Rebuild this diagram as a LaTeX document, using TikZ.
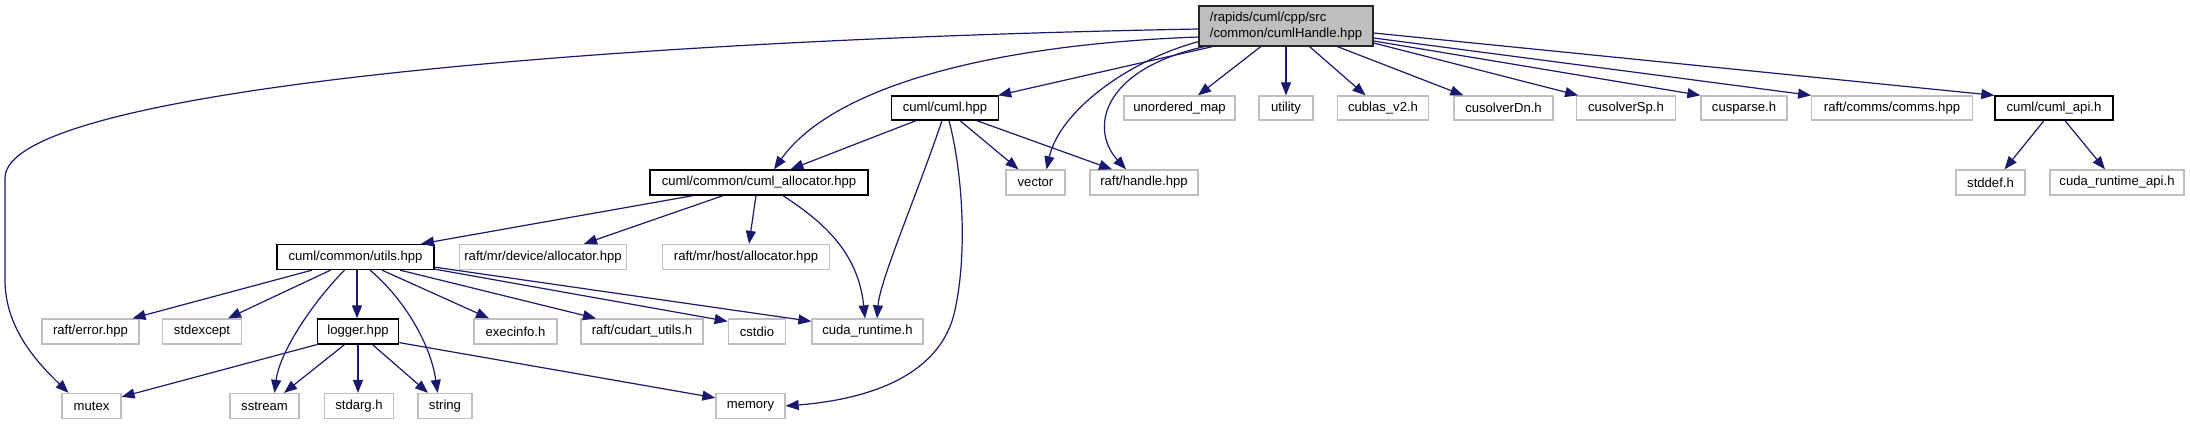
\documentclass[tikz,border=0pt]{standalone}
\usepackage{fontspec}
\setmainfont{Liberation Sans}
\usetikzlibrary{arrows.meta,calc}
\definecolor{edgeblue}{HTML}{191970}
\definecolor{grayline}{HTML}{BFBFBF}
\begin{document}
\begin{tikzpicture}[x=1pt,y=-1pt,
  base/.style={rectangle, inner sep=0pt, minimum height=25pt, line width=1.3pt, font=\fontsize{13.1}{16.5}\selectfont},
  inbox/.style={base, draw=black, fill=white},
  exbox/.style={base, draw=grayline, fill=white},
  rootbox/.style={base, draw=black!85, fill=grayline, minimum height=40pt, align=left},
  edge/.style={draw=edgeblue, line width=1.2pt, -{Triangle[length=13pt,width=10pt]}}
]
\useasboundingbox (0,0) rectangle (2190,425);
% row 0
\node[rootbox, minimum width=174pt] (main) at (1286,26) {/rapids/cuml/cpp/src\\/common/cumlHandle.hpp};
% row 1
\node[inbox, minimum width=107pt, minimum height=24pt] (cuml) at (945,108) {cuml/cuml.hpp};
\node[exbox, minimum width=111pt, minimum height=24pt] (umap) at (1179.5,108) {unordered\_map};
\node[exbox, minimum width=54pt, minimum height=24pt] (utility) at (1286,108) {utility};
\node[exbox, minimum width=91.5pt, minimum height=24pt] (cublas) at (1383,108) {cublas\_v2.h};
\node[exbox, minimum width=99pt, minimum height=24pt] (cusolverDn) at (1503.5,108) {cusolverDn.h};
\node[exbox, minimum width=98.5pt, minimum height=24pt] (cusolverSp) at (1626,108) {cusolverSp.h};
\node[exbox, minimum width=86pt, minimum height=24pt] (cusparse) at (1744,108) {cusparse.h};
\node[exbox, minimum width=160.5pt, minimum height=24pt] (comms) at (1892,108) {raft/comms/comms.hpp};
\node[inbox, minimum width=118pt, minimum height=24pt] (cumlapi) at (2054,108) {cuml/cuml\_api.h};
% row 2
\node[inbox, minimum width=218pt] (alloc) at (759,182.5) {cuml/common/cuml\_allocator.hpp};
\node[exbox, minimum width=59pt] (vector) at (1035.5,182.5) {vector};
\node[exbox, minimum width=108pt] (handle) at (1144,182.5) {raft/handle.hpp};
\node[exbox, minimum width=69pt] (stddef) at (1990.5,182.5) {stddef.h};
\node[exbox, minimum width=134pt] (cra) at (2117,182.5) {cuda\_runtime\_api.h};
% row 3
\node[inbox, minimum width=157pt] (utils) at (355.5,257) {cuml/common/utils.hpp};
\node[exbox, minimum width=166.5pt] (devalloc) at (543,257) {raft/mr/device/allocator.hpp};
\node[exbox, minimum width=166.5pt] (hostalloc) at (746,257) {raft/mr/host/allocator.hpp};
% row 4
\node[exbox, minimum width=97pt] (rerror) at (90.5,331.5) {raft/error.hpp};
\node[exbox, minimum width=78.6pt] (stdexcept) at (202,331.5) {stdexcept};
\node[inbox, minimum width=81.5pt] (logger) at (358,331.5) {logger.hpp};
\node[exbox, minimum width=83pt] (execinfo) at (515.5,331.5) {execinfo.h};
\node[exbox, minimum width=122pt] (cudart) at (642,331.5) {raft/cudart\_utils.h};
\node[exbox, minimum width=57.5pt] (cstdio) at (757,331.5) {cstdio};
\node[exbox, minimum width=111pt] (cudaruntime) at (867.5,331.5) {cuda\_runtime.h};
% row 5
\node[exbox, minimum width=59pt] (mutex) at (91.5,406) {mutex};
\node[exbox, minimum width=69pt] (sstream) at (264.5,406) {sstream};
\node[exbox, minimum width=68.5pt] (stdarg) at (359,406) {stdarg.h};
\node[exbox, minimum width=54pt] (string) at (445,406) {string};
\node[exbox, minimum width=69pt] (memory) at (750.5,406) {memory};

% edges from main
\draw[edge] ($(main.west)+(0,3)$) .. controls (600,40) and (5,90) .. (5,178) -- (5,280) .. controls (5,330) and (40,365) .. ($(mutex.north)+(-23,0)$);
\draw[edge] ($(main.west)+(0,11)$) .. controls (980,45) and (830,90) .. ($(alloc.north)+(15,0)$);
\draw[edge] ($(main.south west)+(14,0)$) -- ($(cuml.north east)+(-1,0)$);
\draw[edge] ($(main.south west)+(0,-5)$) .. controls (1130,60) and (1060,110) .. ($(vector.north)+(11,0)$);
\draw[edge] ($(main.south west)+(6,0)$) .. controls (1100,70) and (1090,130) .. ($(handle.north)+(-18,0)$);
\draw[edge] ($(main.south)+(-25.3,0)$) -- ($(umap.north)+(18.5,0)$);
\draw[edge] (main.south) -- (utility.north);
\draw[edge] ($(main.south)+(23.6,0)$) -- ($(cublas.north)+(-17.5,0)$);
\draw[edge] ($(main.south)+(51.5,0)$) -- ($(cusolverDn.north west)+(10,0)$);
\draw[edge] ($(main.east)+(0,17)$) -- ($(cusolverSp.north west)+(2,0)$);
\draw[edge] ($(main.east)+(0,15)$) -- ($(cusparse.north west)+(0,0)$);
\draw[edge] ($(main.east)+(0,12)$) -- ($(comms.north west)+(0,0)$);
\draw[edge] ($(main.east)+(0,7)$) -- ($(cumlapi.north west)+(0,0)$);
% edges from cuml.hpp
\draw[edge] ($(cuml.south)+(-29,0)$) -- ($(alloc.north)+(31.5,0)$);
\draw[edge] ($(cuml.south)+(-3,0)$) .. controls (915,200) and (880,280) .. ($(cudaruntime.north)+(9.5,0)$);
\draw[edge] ($(cuml.south)+(4,0)$) .. controls (962,170) and (968,250) .. (955,310) .. controls (940,380) and (860,400) .. (memory.east);
\draw[edge] ($(cuml.south)+(15,0)$) -- ($(vector.north)+(-17,0)$);
\draw[edge] ($(cuml.south)+(31.7,0)$) -- ($(handle.north)+(-32,0)$);
% edges from cuml_api
\draw[edge] ($(cumlapi.south)+(-10,0)$) -- ($(stddef.north)+(14,0)$);
\draw[edge] ($(cumlapi.south)+(11,0)$) -- ($(cra.north)+(-12,0)$);
% edges from cuml_allocator
\draw[edge] ($(alloc.south)+(-66,0)$) -- ($(utils.north)+(65.5,0)$);
\draw[edge] ($(alloc.south)+(-36,0)$) -- ($(devalloc.north)+(41,0)$);
\draw[edge] ($(alloc.south)+(-3,0)$) -- ($(hostalloc.north)+(3,0)$);
\draw[edge] ($(alloc.south)+(24,0)$) .. controls (820,220) and (858,250) .. ($(cudaruntime.north)+(-2.5,0)$);
% edges from utils
\draw[edge] ($(utils.south)+(-43.5,0)$) -- ($(rerror.north)+(42,0)$);
\draw[edge] ($(utils.south)+(-25,0)$) -- ($(stdexcept.north)+(26,0)$);
\draw[edge] ($(utils.south)+(-11,0)$) .. controls (315,300) and (280,350) .. ($(sstream.north)+(10,0)$);
\draw[edge] ($(utils.south)+(1.5,0)$) -- ($(logger.north)+(-1,0)$);
\draw[edge] ($(utils.south)+(14.5,0)$) .. controls (400,295) and (430,340) .. ($(string.north)+(-7.4,0)$);
\draw[edge] ($(utils.south)+(26.5,0)$) -- ($(execinfo.north)+(-26.5,0)$);
\draw[edge] ($(utils.south)+(44.5,0)$) -- ($(cudart.north)+(-46,0)$);
\draw[edge] ($(utils.south east)+(0,-1)$) -- ($(cstdio.north west)+(0,3)$);
\draw[edge] ($(utils.south east)+(0,-3)$) -- ($(cudaruntime.north west)+(0,3)$);
% edges from logger
\draw[edge] (logger.south west) -- ($(mutex.north east)+(0,4)$);
\draw[edge] ($(logger.south)+(-13.5,0)$) -- ($(sstream.north)+(19.5,0)$);
\draw[edge] (logger.south) -- (logger.south |- stdarg.north);
\draw[edge] ($(logger.south)+(14.5,0)$) -- ($(string.north)+(-17,0)$);
\draw[edge] ($(logger.south east)+(0,-2)$) -- ($(memory.north west)+(0,5)$);
\end{tikzpicture}
\end{document}
